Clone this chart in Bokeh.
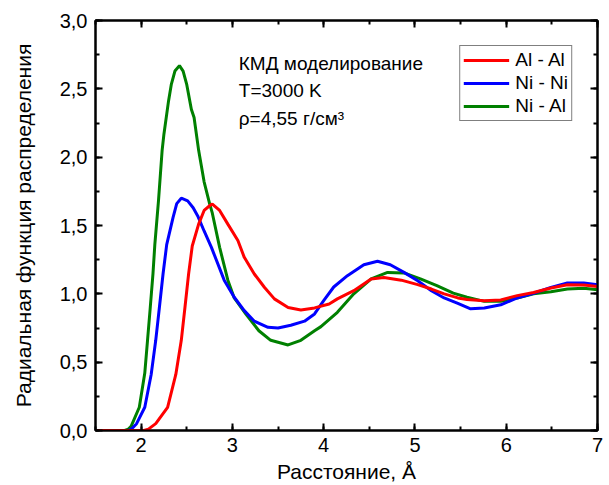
from bokeh.plotting import figure
from bokeh.models import (Range1d, LinearAxis, SingleIntervalTicker, CustomJSTickFormatter,
                          Legend, LegendItem, Label)
from bokeh.embed import file_html
from bokeh.resources import INLINE

FONT = "Liberation Sans"

# ---- data ----
r_alal = [1.5, 2.03, 2.08, 2.16, 2.29, 2.38, 2.44, 2.48, 2.52, 2.56, 2.63, 2.69, 2.76, 2.78,
          2.86, 2.95, 3.06, 3.13, 3.24, 3.35, 3.46, 3.61, 3.75, 3.90, 4.06, 4.15, 4.33, 4.52,
          4.66, 4.85, 5.03, 5.18, 5.32, 5.47, 5.57, 5.76, 5.94, 6.12, 6.30, 6.49, 6.67, 6.85, 7.0]
g_alal = [0.0, 0.0, 0.01, 0.05, 0.17, 0.41, 0.66, 0.90, 1.145, 1.35, 1.51, 1.61, 1.65, 1.657,
          1.61, 1.51, 1.39, 1.267, 1.145, 1.048, 0.963, 0.90, 0.882, 0.897, 0.926, 0.963, 1.023, 1.109,
          1.12, 1.10, 1.067, 1.035, 1.0, 0.97, 0.958, 0.95, 0.955, 0.987, 1.01, 1.043, 1.067, 1.065, 1.053]

r_nini = [1.5, 1.86, 1.90, 1.95, 2.04, 2.11, 2.16, 2.20, 2.24, 2.28, 2.35, 2.39, 2.44, 2.51,
          2.57, 2.62, 2.69, 2.77, 2.91, 3.02, 3.13, 3.24, 3.39, 3.50, 3.64, 3.79, 3.90, 4.00,
          4.11, 4.26, 4.44, 4.59, 4.73, 4.88, 5.03, 5.18, 5.32, 5.47, 5.61, 5.76, 5.94, 6.12,
          6.30, 6.49, 6.67, 6.85, 7.0]
g_nini = [0.0, 0.0, 0.015, 0.05, 0.17, 0.41, 0.66, 0.90, 1.145, 1.36, 1.56, 1.66, 1.70, 1.68,
          1.63, 1.57, 1.46, 1.34, 1.10, 0.975, 0.877, 0.80, 0.755, 0.75, 0.77, 0.80, 0.853, 0.95,
          1.05, 1.133, 1.213, 1.238, 1.213, 1.157, 1.096, 1.023, 0.97, 0.93, 0.89, 0.897, 0.92, 0.97,
          1.004, 1.047, 1.08, 1.08, 1.067]

r_nial = [1.5, 1.82, 1.86, 1.89, 1.98, 2.04, 2.07, 2.10, 2.13, 2.15, 2.19, 2.23, 2.25, 2.30,
          2.33, 2.37, 2.42, 2.46, 2.50, 2.55, 2.58, 2.63, 2.69, 2.75, 2.78, 2.86, 2.95, 3.02,
          3.15, 3.29, 3.42, 3.61, 3.75, 3.90, 3.97, 4.15, 4.33, 4.52, 4.70, 4.88, 5.06, 5.24,
          5.42, 5.57, 5.76, 5.94, 6.12, 6.30, 6.49, 6.67, 6.85, 7.0]
g_nial = [0.0, 0.0, 0.01, 0.03, 0.17, 0.42, 0.66, 0.90, 1.15, 1.36, 1.68, 2.05, 2.17, 2.41,
          2.53, 2.63, 2.67, 2.63, 2.53, 2.35, 2.29, 2.05, 1.82, 1.66, 1.59, 1.34, 1.10, 0.97,
          0.85, 0.73, 0.66, 0.626, 0.66, 0.73, 0.76, 0.865, 1.0, 1.11, 1.157, 1.153, 1.11, 1.06,
          1.005, 0.975, 0.945, 0.945, 0.97, 1.0, 1.016, 1.035, 1.04, 1.03]

series_names = ["Al - Al", "Ni - Ni", "Ni - Al"]
series_colors = ["#ff0000", "#0000ff", "#008000"]

x_label = "Расстояние, Å"
y_label = "Радиальная функция распределения"
notes = ["КМД моделирование", "T=3000 K", "ρ=4,55 г/см³"]

# ---- figure ----
p = figure(width=609, height=485, output_backend="svg", toolbar_location=None,
           x_range=Range1d(1.5, 7.0), y_range=Range1d(0.0, 3.0),
           min_border_left=95, min_border_right=12, min_border_top=20, min_border_bottom=55)
p.xgrid.visible = False
p.ygrid.visible = False
p.outline_line_color = "black"
p.outline_line_width = 2
p.background_fill_color = "white"
p.border_fill_color = "white"

xfmt = CustomJSTickFormatter(code="return tick.toFixed(0);")
yfmt = CustomJSTickFormatter(code="return tick.toFixed(1).replace('.', ',');")


def style_axis(ax, labels=True):
    ax.axis_line_width = 2
    ax.axis_line_color = "black"
    ax.major_tick_in = 7
    ax.major_tick_out = 0
    ax.minor_tick_in = 4
    ax.minor_tick_out = 0
    ax.major_tick_line_width = 2
    ax.minor_tick_line_width = 2
    ax.major_tick_line_color = "black"
    ax.minor_tick_line_color = "black"
    if labels:
        ax.major_label_text_font = FONT
        ax.major_label_text_font_size = "20px"
        ax.major_label_text_color = "black"
        ax.axis_label_text_font = FONT
        ax.axis_label_text_font_size = "21px"
        ax.axis_label_text_font_style = "normal"
        ax.axis_label_text_color = "black"
    else:
        ax.major_label_text_font_size = "1px"
        ax.major_label_text_color = None
        ax.major_label_standoff = 0
        ax.axis_label = None


xt = SingleIntervalTicker(interval=1, num_minor_ticks=2)
yt = SingleIntervalTicker(interval=0.5, num_minor_ticks=2)

p.xaxis.ticker = xt
p.yaxis.ticker = yt
p.xaxis.formatter = xfmt
p.yaxis.formatter = yfmt
p.xaxis.axis_label = x_label
p.yaxis.axis_label = y_label
for ax in p.xaxis + p.yaxis:
    style_axis(ax)
p.xaxis.major_label_standoff = 7
p.xaxis.axis_label_standoff = 5
p.yaxis.major_label_standoff = 8
p.yaxis.axis_label_standoff = 22

top = LinearAxis(ticker=SingleIntervalTicker(interval=1, num_minor_ticks=2))
right = LinearAxis(ticker=SingleIntervalTicker(interval=0.5, num_minor_ticks=2))
style_axis(top, labels=False)
style_axis(right, labels=False)
p.add_layout(top, "above")
p.add_layout(right, "right")

# ---- curves ----
xs = [r_alal, r_nini, r_nial]
ys = [g_alal, g_nini, g_nial]
renderers = [None, None, None]
for i in [2, 1, 0]:
    renderers[i] = p.line(xs[i], ys[i], line_color=series_colors[i], line_width=3)

legend = Legend(items=[LegendItem(label=series_names[i], renderers=[renderers[i]]) for i in range(3)],
                location="top_right", margin=25,
                label_text_font=FONT, label_text_font_size="19px", label_text_color="black",
                glyph_width=46, glyph_height=20, label_height=20, spacing=1, padding=3,
                label_standoff=6, border_line_color="black", border_line_width=1,
                background_fill_color="white", background_fill_alpha=1.0)
p.add_layout(legend)

note_y = [2.685, 2.487, 2.283]
for t, yy in zip(notes, note_y):
    p.add_layout(Label(x=3.07, y=yy, text=t, text_font=FONT, text_font_size="19px",
                       text_baseline="middle", text_color="black"))

open("out.html", "w").write(file_html(p, INLINE))
